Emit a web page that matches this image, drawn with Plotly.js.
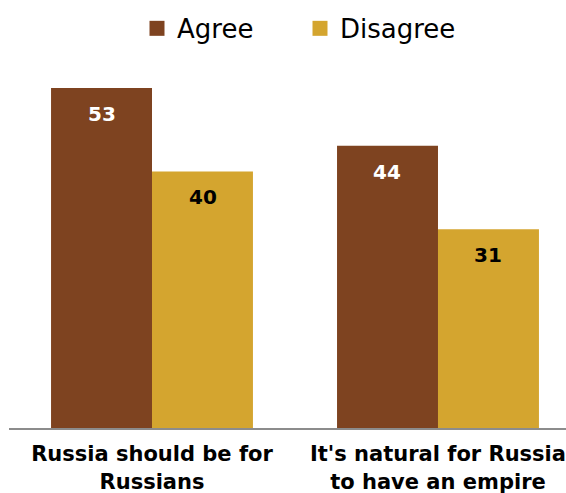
<!DOCTYPE html>
<html>
<head>
<meta charset="utf-8">
<script src="https://cdn.plot.ly/plotly-3.0.1.min.js"></script>
<style>html,body{margin:0;padding:0;background:#fff;overflow:hidden}#chart{width:566px;height:493px}</style>
</head>
<body>
<div id="chart"></div>
<script>
var categories = ["Russia should be for<br>Russians", "It's natural for Russia<br>to have an empire"];
var seriesNames = ["Agree", "Disagree"];
var agree = [53, 44];
var disagree = [40, 31];

var colors = ["#7E4320", "#D4A52F"];
var labelColors = ["#FFFFFF", "#000000"];
var FONT = "Verdana, 'DejaVu Sans', sans-serif";

var seriesValues = [agree, disagree];
var traces = seriesValues.map(function (vals, i) {
  return {
    type: "bar",
    name: seriesNames[i],
    x: categories,
    y: vals,
    marker: { color: colors[i] },
    showlegend: false,
    hoverinfo: "none"
  };
});
// legend entries (square swatches)
seriesNames.forEach(function (n, i) {
  traces.push({
    type: "scatter", mode: "markers", name: n,
    x: [null], y: [null],
    marker: { symbol: "square", size: 15, color: colors[i] },
    showlegend: true, hoverinfo: "none"
  });
});

var annotations = [];
seriesValues.forEach(function (vals, i) {
  vals.forEach(function (v, j) {
    annotations.push({
      x: categories[j], y: v, xref: "x", yref: "y",
      text: "<b>" + v + "</b>", showarrow: false,
      xshift: i === 0 ? -50.5 : 50.5, yshift: -12,
      yanchor: "top", xanchor: "center",
      font: { family: FONT, size: 20, color: labelColors[i] }
    });
  });
});

var layout = {
  width: 566, height: 493,
  margin: { l: 9, r: 0, t: 60, b: 65 },
  paper_bgcolor: "#fff", plot_bgcolor: "#fff",
  barmode: "group", bargap: 0.294, bargroupgap: 0,
  font: { family: FONT, color: "#000" },
  showlegend: true,
  legend: {
    orientation: "h", x: 0.2298, xanchor: "left", y: 0.99, yref: "container", yanchor: "top",
    font: { family: FONT, size: 26, color: "#000" },
    itemclick: false, traceorder: "normal", entrywidth: 118, entrywidthmode: "pixels"
  },
  xaxis: {
    range: [-0.5, 1.4476], showline: true, linecolor: "#8C8C8C", linewidth: 2,
    showgrid: false, zeroline: false, ticks: "", ticklabelstandoff: 6,
    tickfont: { family: FONT, size: 21, color: "#000", weight: "bold" },
    fixedrange: true
  },
  yaxis: {
    range: [0, 57.37], visible: false, showgrid: false, zeroline: false, fixedrange: true
  },
  annotations: annotations
};

Plotly.newPlot("chart", traces, layout, { displayModeBar: false, staticPlot: true });
</script>
</body>
</html>
